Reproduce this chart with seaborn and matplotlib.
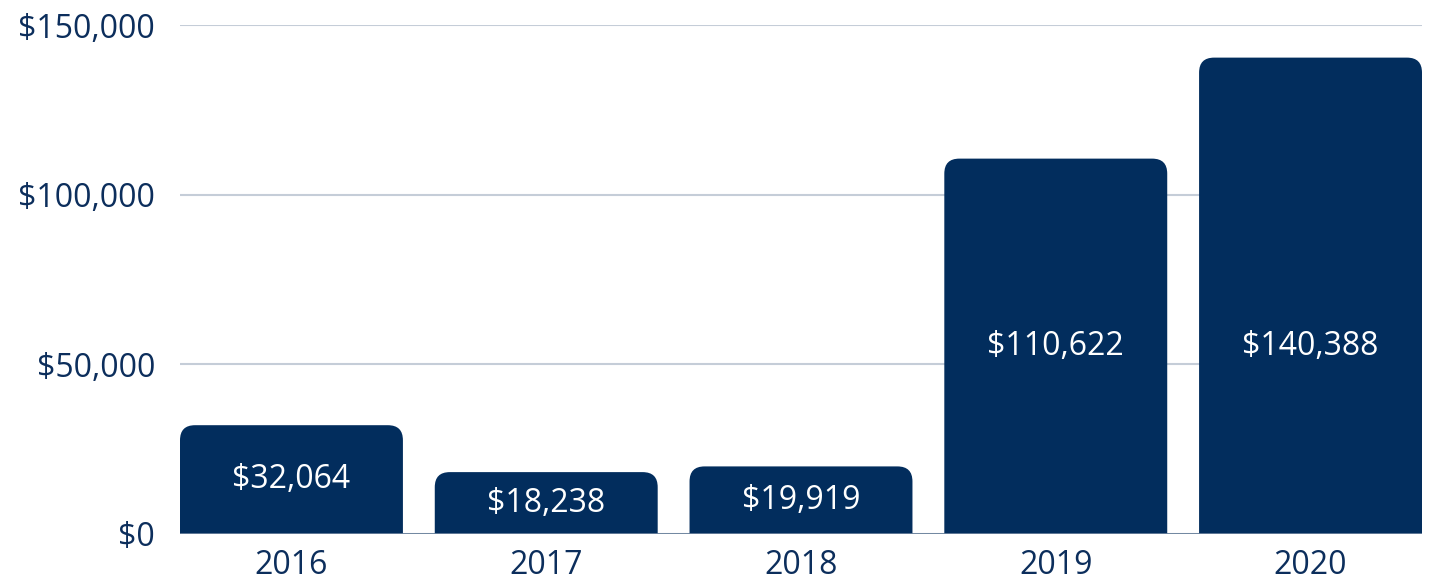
import matplotlib
matplotlib.use("Agg")
import matplotlib.pyplot as plt
from matplotlib.patches import FancyBboxPatch
from matplotlib.ticker import FuncFormatter
import seaborn as sns
import pandas as pd

years = ["2016", "2017", "2018", "2019", "2020"]
amounts = [32064, 18238, 19919, 110622, 140388]
y_ticks = [0, 50000, 100000, 150000]

navy = "#022d5d"
text_navy = "#0c2e5c"

sns.set_style("white")
plt.rcParams["font.family"] = ["Open Sans", "DejaVu Sans"]

df = pd.DataFrame({"Year": years, "Amount": amounts})

fig = plt.figure(figsize=(14.29, 5.83), dpi=100)
ax = fig.add_axes([180 / 1429, 49 / 583, 1242 / 1429, 509 / 583])

sns.barplot(data=df, x="Year", y="Amount", color=navy, width=0.875,
            saturation=1, ax=ax, zorder=2)

ax.set_xlim(-0.4375, len(years) - 0.5625)
ax.set_ylim(0, 150000)
ax.set_yticks(y_ticks)
ax.yaxis.set_major_formatter(FuncFormatter(lambda v, p: "${:,.0f}".format(v)))

# swap plain bars for ones with rounded tops (bottom corners hang below the axis and get clipped)
px_x = 1242 / (ax.get_xlim()[1] - ax.get_xlim()[0])
px_y = 509 / 150000
r_px = 15
rx = r_px / px_x
ry = r_px / px_y
for p in list(ax.patches):
    x, w, h = p.get_x(), p.get_width(), p.get_height()
    p.remove()
    ax.add_patch(FancyBboxPatch((x, -2 * ry), w, h + 2 * ry,
                                boxstyle="round,pad=0,rounding_size=%f" % rx,
                                mutation_aspect=ry / rx, fc=navy, ec="none", zorder=2))

# value labels inside the bars
for i, v in enumerate(amounts):
    ax.text(i, min(v / 2, 55300), "${:,}".format(v), ha="center", va="center",
            color="white", fontsize=23, zorder=3)

ax.yaxis.grid(True, color="#c5cdd8", lw=1.5, zorder=0)
ax.set_axisbelow(True)
ax.axhline(0, color="#6a819c", lw=2, zorder=4)
sns.despine(ax=ax, left=True, bottom=True)
ax.tick_params(axis="both", length=0, labelsize=23, colors=text_navy)
ax.tick_params(axis="y", pad=18)
ax.tick_params(axis="x", pad=11)
ax.set(xlabel=None, ylabel=None)

fig.savefig("out.png", dpi=100)
